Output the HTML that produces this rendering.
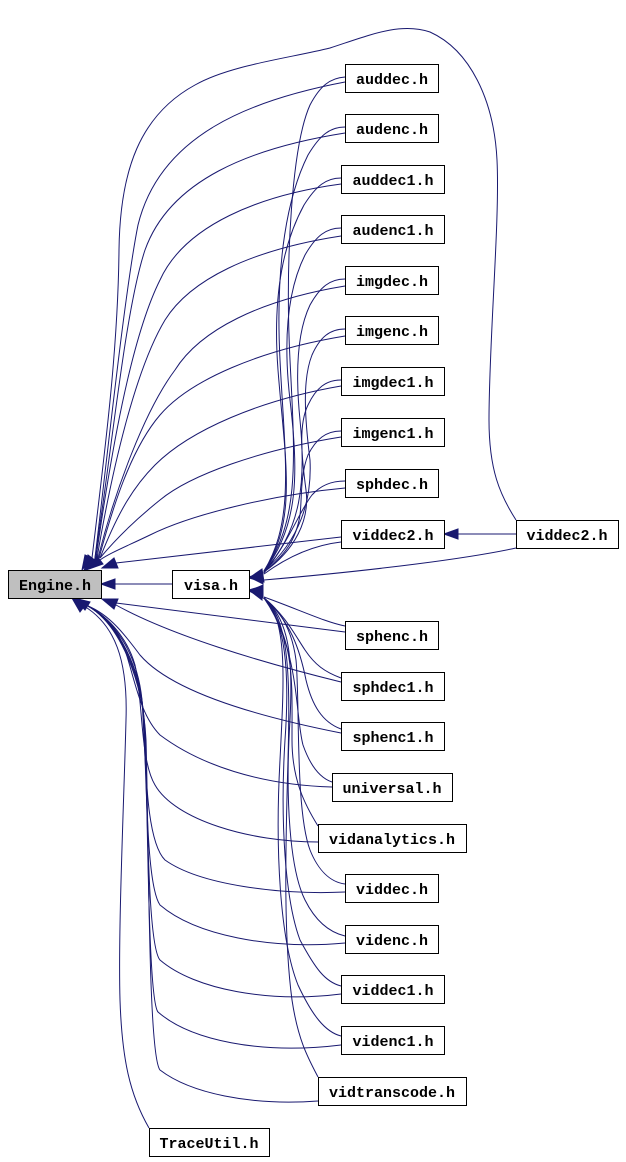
<!DOCTYPE html>
<html><head><meta charset="utf-8"><style>
html,body{margin:0;padding:0;background:#fff;}
svg{display:block;}
text{font-family:"Liberation Mono","DejaVu Sans Mono",monospace;font-size:15px;font-weight:bold;fill:#000;}
</style></head><body>
<svg width="626" height="1162" viewBox="0 0 626 1162" xmlns="http://www.w3.org/2000/svg">
<g fill="none" stroke="#191970" stroke-width="1">
<!-- top nodes -> Engine -->
<path d="M345,82 C250,100 160,135 138,225 C125,290 108,450 95,558"/>
<path d="M345,133 C250,148 170,180 145,250 C125,310 112,450 95,558"/>
<path d="M341,184 C260,195 185,225 160,280 C130,340 110,460 96,558"/>
<path d="M341,236 C250,250 190,280 165,320 C135,370 112,470 97,558"/>
<path d="M345,286 C260,300 200,330 175,370 C145,410 115,490 98,558"/>
<path d="M345,336 C260,350 190,380 160,415 C130,450 112,510 99,558"/>
<path d="M341,386 C260,400 190,430 155,465 C130,490 115,520 100,558"/>
<path d="M341,437 C260,450 190,475 160,500 C135,520 115,540 100,558"/>
<path d="M345,488 C270,495 190,515 150,535 C125,547 110,553 100,560"/>
<path d="M341,537 L116,563"/>
<!-- viddec2 right -> Engine -->
<path d="M516,520 C500,495 489,470 489,420 C489,340 500,220 497,160 C494,100 470,50 430,32 C400,22 370,35 330,48 C290,58 230,65 195,85 C140,115 120,170 119,250 C118,350 105,450 92,558"/>
<!-- top nodes -> visa -->
<path d="M345,77 C330,78 320,86 310,105 C292,145 285,260 290,360 C295,460 300,520 264,571"/>
<path d="M345,127 C330,127 320,135 308,155 C288,195 275,260 280,360 C285,460 295,520 264,571"/>
<path d="M341,178 C326,178 316,186 304,205 C285,240 272,290 278,370 C285,460 298,520 264,571"/>
<path d="M341,228 C326,228 316,236 305,255 C290,285 282,330 290,400 C298,470 300,525 264,571"/>
<path d="M345,279 C330,279 320,287 310,305 C298,330 295,370 300,420 C306,480 302,530 264,571"/>
<path d="M345,329 C330,329 320,337 312,355 C302,380 305,420 310,460 C312,500 300,540 264,571"/>
<path d="M341,380 C326,380 316,388 308,405 C298,425 302,460 306,490 C310,520 295,550 264,572"/>
<path d="M341,431 C326,431 316,439 308,455 C300,475 302,500 300,515 C296,540 285,555 264,572"/>
<path d="M345,481 C330,481 320,486 312,495 C300,510 290,540 264,573"/>
<path d="M341,542 C315,545 290,555 264,574"/>
<!-- viddec2 right -> visa, -> viddec2 mid -->
<path d="M516,548 C470,558 380,570 264,580"/>
<path d="M516,534 L458,534"/>
<!-- visa -> Engine -->
<path d="M172,584 L115,584"/>
<!-- bottom nodes -> visa -->
<path d="M345,626 C325,622 300,610 264,597"/>
<path d="M341,678 C325,672 315,665 305,650 C295,635 285,615 264,598"/>
<path d="M341,729 C322,722 312,705 306,680 C300,650 290,620 264,598"/>
<path d="M332,782 C320,778 310,765 303,745 C295,715 300,650 264,598"/>
<path d="M318,826 C305,805 292,780 292,740 C292,680 295,640 264,598"/>
<path d="M345,884 C330,882 318,870 310,850 C295,810 300,700 296,660 C292,630 280,610 264,598"/>
<path d="M345,936 C328,932 315,920 305,900 C290,870 285,800 290,720 C293,660 290,620 264,598"/>
<path d="M341,986 C325,982 315,968 300,940 C285,900 280,820 285,740 C290,670 285,620 264,598"/>
<path d="M341,1036 C325,1032 312,1015 298,985 C280,940 275,850 280,760 C284,680 288,620 264,598"/>
<path d="M318,1077 C308,1058 298,1040 292,1000 C284,940 285,860 288,760 C290,680 290,620 264,598"/>
<!-- bottom nodes -> Engine -->
<path d="M345,632 L116,603"/>
<path d="M341,682 C260,662 170,635 116,605"/>
<path d="M341,733 C250,715 170,690 140,655 C125,635 110,615 88,606"/>
<path d="M332,787 C260,785 200,765 160,735 C140,715 135,680 125,650 C118,630 105,615 88,606"/>
<path d="M318,842 C250,842 175,820 155,785 C140,760 143,700 135,665 C128,640 110,618 88,606"/>
<path d="M345,892 C280,895 200,885 165,860 C145,840 146,760 142,700 C138,660 120,625 88,606"/>
<path d="M345,943 C270,950 195,935 160,905 C146,885 147,780 143,710 C140,670 120,625 88,606"/>
<path d="M341,994 C270,1003 195,990 160,960 C147,945 148,800 144,720 C141,670 120,625 88,606"/>
<path d="M341,1045 C260,1055 190,1040 158,1012 C148,1000 148,820 145,730 C142,675 120,625 88,606"/>
<path d="M318,1101 C250,1106 190,1093 160,1070 C148,1055 149,840 146,740 C143,680 120,625 88,606"/>
<path d="M149,1128 C130,1095 122,1060 120,1000 C118,930 124,800 126,720 C128,660 115,625 84,606"/>
</g>
<!-- arrowheads -->
<g fill="#191970" stroke="#191970" stroke-width="1">
<polygon points="84,571 96,561 88,555"/>
<polygon points="86,570 103,564 97,556"/>
<polygon points="82,570 92,558 85,555"/>
<polygon points="102,568 118,568 114,558"/>
<polygon points="101,584 115,579 115,589"/>
<polygon points="102,599 114,609 118,599"/>
<polygon points="72,598 86,604 80,612"/>
<polygon points="74,598 90,602 85,610"/>
<polygon points="249,578 262,569 264,582"/>
<polygon points="249,577 263,572 263,584"/>
<polygon points="249,591 263,585 263,598"/>
<polygon points="249,590 262,586 262,600"/>
<polygon points="444,534 458,529 458,539"/>
</g>
<!-- nodes -->
<g stroke="#000" stroke-width="1" fill="#fff">
<rect x="8.5" y="570.5" width="93" height="28" fill="#bfbfbf"/>
<rect x="172.5" y="570.5" width="77" height="28"/>
<rect x="345.5" y="64.5" width="93" height="28"/>
<rect x="345.5" y="114.5" width="93" height="28"/>
<rect x="341.5" y="165.5" width="103" height="28"/>
<rect x="341.5" y="215.5" width="103" height="28"/>
<rect x="345.5" y="266.5" width="93" height="28"/>
<rect x="345.5" y="316.5" width="93" height="28"/>
<rect x="341.5" y="367.5" width="103" height="28"/>
<rect x="341.5" y="418.5" width="103" height="28"/>
<rect x="345.5" y="469.5" width="93" height="28"/>
<rect x="341.5" y="520.5" width="103" height="28"/>
<rect x="516.5" y="520.5" width="102" height="28"/>
<rect x="345.5" y="621.5" width="93" height="28"/>
<rect x="341.5" y="672.5" width="103" height="28"/>
<rect x="341.5" y="722.5" width="103" height="28"/>
<rect x="332.5" y="773.5" width="120" height="28"/>
<rect x="318.5" y="824.5" width="148" height="28"/>
<rect x="345.5" y="874.5" width="93" height="28"/>
<rect x="345.5" y="925.5" width="93" height="28"/>
<rect x="341.5" y="975.5" width="103" height="28"/>
<rect x="341.5" y="1026.5" width="103" height="28"/>
<rect x="318.5" y="1077.5" width="148" height="28"/>
<rect x="149.5" y="1128.5" width="120" height="28"/>
</g>
<g text-anchor="middle">
<text x="55" y="590">Engine.h</text>
<text x="211" y="590">visa.h</text>
<text x="392" y="84">auddec.h</text>
<text x="392" y="134">audenc.h</text>
<text x="393" y="185">auddec1.h</text>
<text x="393" y="235">audenc1.h</text>
<text x="392" y="286">imgdec.h</text>
<text x="392" y="336">imgenc.h</text>
<text x="393" y="387">imgdec1.h</text>
<text x="393" y="438">imgenc1.h</text>
<text x="392" y="489">sphdec.h</text>
<text x="393" y="540">viddec2.h</text>
<text x="567" y="540">viddec2.h</text>
<text x="392" y="641">sphenc.h</text>
<text x="393" y="692">sphdec1.h</text>
<text x="393" y="742">sphenc1.h</text>
<text x="392" y="793">universal.h</text>
<text x="392" y="844">vidanalytics.h</text>
<text x="392" y="894">viddec.h</text>
<text x="392" y="945">videnc.h</text>
<text x="393" y="995">viddec1.h</text>
<text x="393" y="1046">videnc1.h</text>
<text x="392" y="1097">vidtranscode.h</text>
<text x="209" y="1148">TraceUtil.h</text>
</g>
</svg>
</body></html>
